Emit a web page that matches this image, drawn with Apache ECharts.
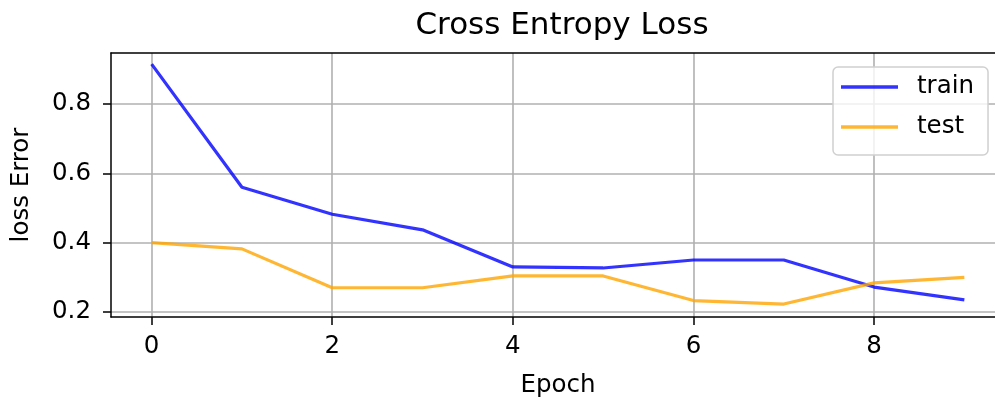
<!DOCTYPE html>
<html>
<head>
<meta charset="utf-8">
<script src="https://cdn.jsdelivr.net/npm/echarts@6/dist/echarts.min.js"></script>
<style>
  html, body { margin: 0; padding: 0; background: #fff; }
  #chart { width: 995px; height: 403px; }
</style>
</head>
<body>
<div id="chart"></div>
<script>
// Per-epoch loss values
const epochs = [0, 1, 2, 3, 4, 5, 6, 7, 8, 9];
const trainLoss = [0.915, 0.560, 0.482, 0.437, 0.330, 0.327, 0.350, 0.350, 0.272, 0.235];
const testLoss = [0.400, 0.382, 0.270, 0.270, 0.304, 0.304, 0.233, 0.223, 0.284, 0.300];

// Axis tick positions
const xTicks = [0, 2, 4, 6, 8];
const yTicks = [0.2, 0.4, 0.6, 0.8];

const FONT = 'DejaVu Sans';
const X_MIN = -0.45, X_MAX = 9.45;
const pairs = (ys) => epochs.map((e, i) => [e, ys[i]]);

const chart = echarts.init(document.getElementById('chart'), null, { renderer: 'canvas' });

chart.setOption({
  animation: false,
  backgroundColor: '#ffffff',
  title: {
    text: 'Cross Entropy Loss',
    left: 557,
    top: 5,
    textAlign: 'center',
    textStyle: { fontFamily: FONT, fontSize: 31, fontWeight: 'normal', color: '#000' }
  },
  legend: {
    orient: 'vertical',
    left: 833,
    top: 67,
    icon: 'rect',
    itemWidth: 57,
    itemHeight: 3.5,
    itemGap: 14,
    padding: [7, 14, 15, 8],
    backgroundColor: 'rgba(255,255,255,0.8)',
    borderColor: '#d0d0d0',
    borderWidth: 1.5,
    borderRadius: 5,
    textStyle: { fontFamily: FONT, fontSize: 24.5, lineHeight: 26, color: '#000', padding: [0, 0, 0, 14] },
    data: ['train', 'test']
  },
  grid: {
    left: 111,
    top: 53,
    width: 894,
    height: 264,
    show: false,
    containLabel: false,
    outerBoundsMode: 'none'
  },
  xAxis: [
    {
      type: 'value',
      min: X_MIN,
      max: X_MAX,
      name: 'Epoch',
      nameLocation: 'middle',
      nameGap: 56,
      nameTextStyle: { fontFamily: FONT, fontSize: 24.5, color: '#000' },
      axisLine: { show: true, onZero: false, lineStyle: { color: '#000', width: 1.5 } },
      axisTick: { show: true, length: 8, lineStyle: { color: '#000', width: 1.5 }, customValues: xTicks },
      axisLabel: { customValues: xTicks, margin: 17, fontFamily: FONT, fontSize: 24.5, color: '#000' },
      splitLine: { show: true, lineStyle: { color: '#b0b0b0', width: 1.6 } }
    },
    {
      // top spine only
      type: 'value',
      position: 'top',
      min: X_MIN,
      max: X_MAX,
      axisLine: { show: true, onZero: false, lineStyle: { color: '#000', width: 1.5 } },
      axisTick: { show: false },
      axisLabel: { show: false },
      splitLine: { show: false }
    }
  ],
  yAxis: {
    type: 'value',
    min: 0.1856,
    max: 0.947,
    name: 'loss Error',
    nameLocation: 'middle',
    nameGap: 77,
    nameTextStyle: { fontFamily: FONT, fontSize: 24.5, color: '#000' },
    axisLine: { show: true, onZero: false, lineStyle: { color: '#000', width: 1.5 } },
    axisTick: { show: true, length: 8, lineStyle: { color: '#000', width: 1.5 }, customValues: yTicks },
    axisLabel: { customValues: yTicks, margin: 20, fontFamily: FONT, fontSize: 24.5, color: '#000',
                 formatter: (v) => v.toFixed(1) },
    splitLine: { show: true, lineStyle: { color: '#b0b0b0', width: 1.6 } }
  },
  series: [
    {
      name: 'train',
      type: 'line',
      data: pairs(trainLoss),
      symbol: 'none',
      color: 'rgba(0,0,255,0.8)',
      lineStyle: { width: 3.2, color: 'rgba(0,0,255,0.8)' }
    },
    {
      name: 'test',
      type: 'line',
      data: pairs(testLoss),
      symbol: 'none',
      color: 'rgba(255,165,0,0.8)',
      lineStyle: { width: 3.2, color: 'rgba(255,165,0,0.8)' }
    }
  ]
});
</script>
</body>
</html>
